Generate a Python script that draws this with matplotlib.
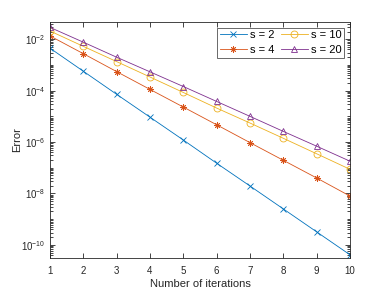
import numpy as np
import matplotlib
matplotlib.use("Agg")
import matplotlib.pyplot as plt
from matplotlib.ticker import LogLocator, FixedLocator, NullFormatter

iterations = [1, 2, 3, 4, 5, 6, 7, 8, 9, 10]
err_s2 = [4.5e-3, 5.7e-4, 7.2e-5, 9.3e-6, 1.2e-6, 1.5e-7, 1.95e-8, 2.5e-9, 3.2e-10, 4.1e-11]
err_s4 = [1.35e-2, 2.75e-3, 5.5e-4, 1.12e-4, 2.3e-5, 4.7e-6, 9.5e-7, 1.95e-7, 4.0e-8, 7.9e-9]
err_s10 = [2.1e-2, 5.3e-3, 1.35e-3, 3.4e-4, 8.5e-5, 2.1e-5, 5.5e-6, 1.4e-6, 3.5e-7, 8.7e-8]
err_s20 = [2.9e-2, 7.7e-3, 2.0e-3, 5.4e-4, 1.45e-4, 3.8e-5, 1.0e-5, 2.6e-6, 6.9e-7, 1.8e-7]
labels = ["s = 2", "s = 4", "s = 10", "s = 20"]
yticks = [1e-10, 1e-8, 1e-6, 1e-4, 1e-2]

plt.rcParams['font.family'] = ['Liberation Sans', 'DejaVu Sans']
fig = plt.figure(figsize=(3.86, 2.90), dpi=100)
ax = fig.add_axes([0.1295, 0.1114, 0.7772, 0.8126])

colors = [(0, 0.447, 0.741), (0.85, 0.325, 0.098), (0.929, 0.694, 0.125), (0.494, 0.184, 0.556)]
markers = ['x', (8, 2, 0), 'o', '^']
sizes = [4, 4.5, 5, 5]
series = [err_s2, err_s4, err_s10, err_s20]
handles = []
for ys, c, m, s, lab in zip(series, colors, markers, sizes, labels):
    h, = ax.semilogy(iterations, ys, color=c, marker=m, lw=0.6, ms=s,
                     mfc='none', mec=c, mew=0.6, label=lab)
    handles.append(h)

ax.set_xlim(1, 10)
ax.set_ylim(10**-10.5, 10**-1.33)
ax.xaxis.set_major_locator(FixedLocator(iterations))
ax.yaxis.set_major_locator(FixedLocator(yticks))
ax.yaxis.set_minor_locator(LogLocator(base=10, subs=np.arange(1, 10), numticks=100))
ax.yaxis.set_minor_formatter(NullFormatter())

gray = (0.15, 0.15, 0.15)
for sp in ax.spines.values():
    sp.set_color(gray)
    sp.set_linewidth(0.6)
ax.tick_params(which='both', direction='in', top=True, right=True, colors=gray, labelsize=7, width=0.6)
ax.tick_params(which='major', length=3.5)
ax.tick_params(which='minor', length=2)
ax.tick_params(axis='x', pad=6)

ax.set_xlabel("Number of iterations", fontsize=8, color=gray, labelpad=2)
ax.set_ylabel("Error", fontsize=8, color=gray, labelpad=-1)

leg = ax.legend(handles=handles, ncol=2, loc='upper right', fontsize=8, frameon=True,
                fancybox=False, edgecolor=gray, handlelength=2.4, columnspacing=0.6,
                handletextpad=0.3, labelspacing=0.4, borderpad=0.25, borderaxespad=0.5)
leg.get_frame().set_linewidth(0.6)

fig.savefig("out.png", dpi=100)
